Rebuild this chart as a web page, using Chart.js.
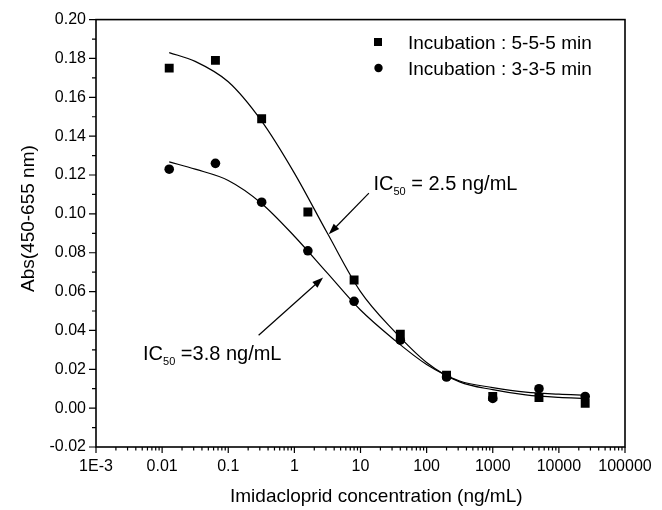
<!DOCTYPE html>
<html>
<head>
<meta charset="utf-8">
<script src="https://cdn.jsdelivr.net/npm/chart.js@4.4.1/dist/chart.umd.min.js"></script>
<style>
html, body { margin: 0; padding: 0; background: #fff; }
#wrap { width: 662px; height: 510px; }
</style>
</head>
<body>
<div id="wrap"><canvas id="chart" width="662" height="510"></canvas></div>
<script>
// Imidacloprid concentrations (ng/mL), 5-fold dilution series
const conc = [0.0128, 0.064, 0.32, 1.6, 8, 40, 200, 1000, 5000, 25000];
// measured absorbance
const abs555 = [0.175, 0.179, 0.149, 0.101, 0.066, 0.038, 0.017, 0.006, 0.0055, 0.0025];
const abs335 = [0.123, 0.126, 0.106, 0.081, 0.055, 0.035, 0.016, 0.005, 0.010, 0.006];

// fitted curves, every half decade
const fitX = [0.0128, 0.0316, 0.1, 0.316, 1, 3.16, 10, 31.6, 100, 316, 1000, 3162, 10000, 25000];
const fit555Y = [0.183, 0.1785, 0.168, 0.148, 0.121, 0.090, 0.060, 0.040, 0.0235, 0.0135, 0.0095, 0.0068, 0.0055, 0.0050];
const fit335Y = [0.1268, 0.1230, 0.1172, 0.1055, 0.0885, 0.0695, 0.0505, 0.0355, 0.0225, 0.0140, 0.0106, 0.0082, 0.0072, 0.0067];

// axes
const xTickValues = [0.001, 0.01, 0.1, 1, 10, 100, 1000, 10000, 100000];
const xTickLabels = ['1E-3', '0.01', '0.1', '1', '10', '100', '1000', '10000', '100000'];
const yTickValues = [-0.02, 0, 0.02, 0.04, 0.06, 0.08, 0.10, 0.12, 0.14, 0.16, 0.18, 0.20];
const yTickLabels = ['-0.02', '0.00', '0.02', '0.04', '0.06', '0.08', '0.10', '0.12', '0.14', '0.16', '0.18', '0.20'];

const legendLabels = ['Incubation : 5-5-5 min', 'Incubation : 3-3-5 min'];
const FONT = "'Liberation Sans', Arial, sans-serif";

// IC50 notes: text anchor and arrow in data coordinates
const notes = [
    { ic: '2.5', sep: ' = ', text: { x: 15.7, y: 0.1121 }, from: { x: 13.4, y: 0.1107 }, to: { x: 3.31, y: 0.0895 } },
    { ic: '3.8', sep: ' =', text: { x: 0.00515, y: 0.0247 }, from: { x: 0.288, y: 0.0375 }, to: { x: 2.72, y: 0.0672 } }
];

const toPoints = (xs, ys) => xs.map((v, i) => ({ x: v, y: ys[i] }));

// draw an arrow with filled head
function arrow(ctx, x1, y1, x2, y2) {
    const ang = Math.atan2(y2 - y1, x2 - x1);
    const len = 11, half = 3.8;
    ctx.beginPath();
    ctx.moveTo(x1, y1);
    ctx.lineTo(x2 - Math.cos(ang) * len * 0.8, y2 - Math.sin(ang) * len * 0.8);
    ctx.stroke();
    ctx.beginPath();
    ctx.moveTo(x2, y2);
    ctx.lineTo(x2 - Math.cos(ang) * len + Math.sin(ang) * half, y2 - Math.sin(ang) * len - Math.cos(ang) * half);
    ctx.lineTo(x2 - Math.cos(ang) * len - Math.sin(ang) * half, y2 - Math.sin(ang) * len + Math.cos(ang) * half);
    ctx.closePath();
    ctx.fill();
}

const frameAndNotes = {
    id: 'frameAndNotes',
    afterDraw(chart) {
        const { ctx, chartArea: a, scales: { x, y } } = chart;
        ctx.save();
        ctx.strokeStyle = '#000';
        ctx.fillStyle = '#000';

        // frame
        ctx.lineWidth = 1.6;
        ctx.strokeRect(a.left, a.top, a.right - a.left, a.bottom - a.top);

        // tick marks
        ctx.lineWidth = 1.2;
        ctx.beginPath();
        xTickValues.forEach(v => {
            const px = x.getPixelForValue(v);
            ctx.moveTo(px, a.bottom);
            ctx.lineTo(px, a.bottom + 6);
        });
        for (let i = 0; i < xTickValues.length - 1; i++) {
            for (let k = 2; k <= 9; k++) {
                const px = x.getPixelForValue(xTickValues[i] * k);
                ctx.moveTo(px, a.bottom);
                ctx.lineTo(px, a.bottom + 3.5);
            }
        }
        yTickValues.forEach((v, i) => {
            const py = y.getPixelForValue(v);
            ctx.moveTo(a.left, py);
            ctx.lineTo(a.left - 7, py);
            if (i < yTickValues.length - 1) {
                const pm = y.getPixelForValue((v + yTickValues[i + 1]) / 2);
                ctx.moveTo(a.left, pm);
                ctx.lineTo(a.left - 4, pm);
            }
        });
        ctx.stroke();

        // axis titles
        ctx.font = `19px ${FONT}`;
        ctx.textBaseline = 'alphabetic';
        ctx.textAlign = 'left';
        ctx.fillText('Imidacloprid concentration (ng/mL)', 230, 502);
        ctx.save();
        ctx.translate(34, 292);
        ctx.rotate(-Math.PI / 2);
        ctx.fillText('Abs(450-655 nm)', 0, 0);
        ctx.restore();

        // legend
        ctx.fillRect(374, 38, 8, 8);
        ctx.beginPath();
        ctx.arc(378.5, 68, 4.2, 0, Math.PI * 2);
        ctx.fill();
        ctx.font = `19px ${FONT}`;
        ctx.fillText(legendLabels[0], 408, 49);
        ctx.fillText(legendLabels[1], 408, 75);

        // IC50 notes
        ctx.lineWidth = 1.2;
        notes.forEach(n => {
            arrow(ctx, x.getPixelForValue(n.from.x), y.getPixelForValue(n.from.y),
                x.getPixelForValue(n.to.x), y.getPixelForValue(n.to.y));
            let tx = x.getPixelForValue(n.text.x);
            const ty = y.getPixelForValue(n.text.y);
            ctx.font = `20px ${FONT}`;
            ctx.fillText('IC', tx, ty);
            tx += ctx.measureText('IC').width;
            ctx.font = `11px ${FONT}`;
            ctx.fillText('50', tx, ty + 5);
            tx += ctx.measureText('50').width;
            ctx.font = `20px ${FONT}`;
            ctx.fillText(n.sep + n.ic + ' ng/mL', tx, ty);
        });
        ctx.restore();
    }
};

new Chart(document.getElementById('chart'), {
    type: 'scatter',
    data: {
        datasets: [{
            label: legendLabels[0],
            data: toPoints(conc, abs555),
            pointStyle: 'rect',
            pointRadius: 6.3,
            backgroundColor: '#000',
            borderColor: '#000',
            borderWidth: 0
        }, {
            label: legendLabels[1],
            data: toPoints(conc, abs335),
            pointStyle: 'circle',
            pointRadius: 4.8,
            backgroundColor: '#000',
            borderColor: '#000',
            borderWidth: 0
        }, {
            label: 'fit 5-5-5',
            data: toPoints(fitX, fit555Y),
            showLine: true,
            pointRadius: 0,
            borderColor: '#000',
            borderWidth: 1.2,
            cubicInterpolationMode: 'monotone'
        }, {
            label: 'fit 3-3-5',
            data: toPoints(fitX, fit335Y),
            showLine: true,
            pointRadius: 0,
            borderColor: '#000',
            borderWidth: 1.2,
            cubicInterpolationMode: 'monotone'
        }]
    },
    options: {
        responsive: false,
        animation: false,
        layout: { padding: { top: 19, right: 37, left: 0, bottom: 0 } },
        plugins: {
            legend: { display: false },
            tooltip: { enabled: false }
        },
        scales: {
            x: {
                type: 'logarithmic',
                min: 0.001,
                max: 100000,
                grid: { display: false, drawTicks: false },
                border: { display: false },
                afterBuildTicks: s => { s.ticks = xTickValues.map(v => ({ value: v })); },
                afterFit: s => { s.height = 63; },
                ticks: {
                    autoSkip: false,
                    maxRotation: 0,
                    padding: 10,
                    color: '#000',
                    font: { family: FONT, size: 16 },
                    callback: (v, i) => xTickLabels[i]
                }
            },
            y: {
                type: 'linear',
                min: -0.02,
                max: 0.20,
                grid: { display: false, drawTicks: false },
                border: { display: false },
                afterBuildTicks: s => { s.ticks = yTickValues.map(v => ({ value: v })); },
                afterFit: s => { s.width = 96; },
                ticks: {
                    autoSkip: false,
                    padding: 10,
                    color: '#000',
                    font: { family: FONT, size: 16 },
                    callback: (v, i) => yTickLabels[i]
                }
            }
        }
    },
    plugins: [frameAndNotes]
});
</script>
</body>
</html>
